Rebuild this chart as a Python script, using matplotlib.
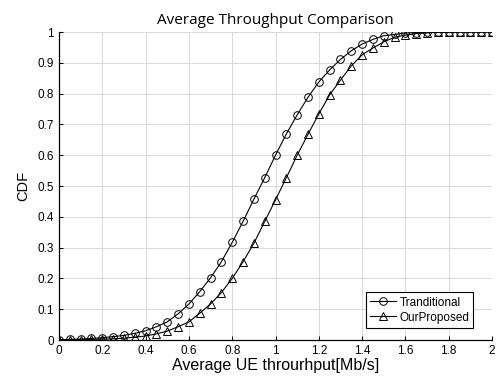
import numpy as np
import matplotlib
matplotlib.use('Agg')
import matplotlib.pyplot as plt

plt.rcParams['font.family'] = ['Liberation Sans', 'DejaVu Sans']

# throughput samples (Mb/s)
x = [0.05 * i for i in range(41)]

traditional = [0.001, 0.002, 0.003, 0.005, 0.0075, 0.011, 0.015, 0.022, 0.030, 0.043,
               0.059, 0.085, 0.117, 0.157, 0.202, 0.254, 0.317, 0.385, 0.457, 0.527,
               0.600, 0.669, 0.731, 0.788, 0.838, 0.877, 0.911, 0.939, 0.961, 0.976,
               0.988, 0.992, 0.997, 0.998, 0.999, 0.999, 1.0, 1.0, 1.0, 1.0, 1.0]

proposed = [0.0, 0.001, 0.001, 0.002, 0.003, 0.004, 0.006, 0.009, 0.013, 0.020,
            0.029, 0.043, 0.059, 0.087, 0.117, 0.154, 0.200, 0.254, 0.314, 0.385,
            0.455, 0.527, 0.600, 0.668, 0.734, 0.796, 0.844, 0.890, 0.926, 0.948,
            0.968, 0.983, 0.990, 0.995, 0.997, 0.999, 0.999, 1.0, 1.0, 1.0, 1.0]

fig = plt.figure(figsize=(4.98, 3.78), dpi=100)
ax = fig.add_axes([0.1185, 0.1005, 0.8695, 0.8148])

ax.plot(x, traditional, c='black', lw=0.8, marker='o', ms=5.5, mfc='none',
        mec='black', mew=0.7, label='Tranditional')
ax.plot(x, proposed, c='black', lw=0.8, marker='^', ms=5.5, mfc='none',
        mec='black', mew=0.7, label='OurProposed')

ax.set_xlim(0, 2)
ax.set_ylim(0, 1)
ax.set_xticks(np.arange(0, 2.01, 0.2))
ax.set_xticklabels(['0', '0.2', '0.4', '0.6', '0.8', '1', '1.2', '1.4', '1.6', '1.8', '2'])
ax.set_yticks(np.arange(0, 1.01, 0.1))
ax.set_yticklabels(['0', '0.1', '0.2', '0.3', '0.4', '0.5', '0.6', '0.7', '0.8', '0.9', '1'])
ax.tick_params(direction='in', length=3, labelsize=8.5, width=0.7)
ax.grid(color='#d9d9d9', lw=0.7)
ax.set_axisbelow(True)
ax.spines['top'].set_visible(False)
ax.spines['right'].set_visible(False)
ax.spines['left'].set_linewidth(0.9)
ax.spines['bottom'].set_linewidth(0.9)

ax.set_title('Average Throughput Comparison', fontsize=11, pad=6,
             family=['Open Sans', 'DejaVu Sans'])
ax.set_xlabel('Average UE throurhput[Mb/s]', fontsize=11.5, labelpad=1)
ax.set_ylabel('CDF', fontsize=10.5, labelpad=5)

leg = ax.legend(loc='lower right', bbox_to_anchor=(0.957, 0.04), fontsize=8.5,
                frameon=True, fancybox=False, edgecolor='black', framealpha=1,
                borderpad=0.35, handlelength=2.2, handletextpad=0.3, labelspacing=0.25,
                borderaxespad=0)
leg.get_frame().set_linewidth(0.8)

fig.savefig('out.png', dpi=100)
